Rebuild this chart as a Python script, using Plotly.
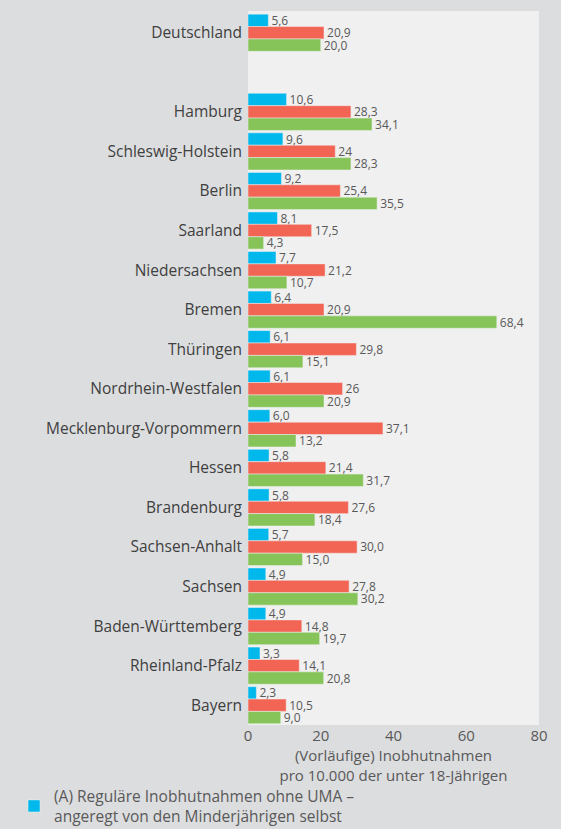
import plotly.graph_objects as go

categories = ["Deutschland", "Hamburg", "Schleswig-Holstein", "Berlin", "Saarland",
              "Niedersachsen", "Bremen", "Thüringen", "Nordrhein-Westfalen",
              "Mecklenburg-Vorpommern", "Hessen", "Brandenburg", "Sachsen-Anhalt",
              "Sachsen", "Baden-Württemberg", "Rheinland-Pfalz", "Bayern"]
positions = [0, 2, 3, 4, 5, 6, 7, 8, 9, 10, 11, 12, 13, 14, 15, 16, 17]

values_a = [5.6, 10.6, 9.6, 9.2, 8.1, 7.7, 6.4, 6.1, 6.1, 6.0, 5.8, 5.8, 5.7, 4.9, 4.9, 3.3, 2.3]
labels_a = ["5,6", "10,6", "9,6", "9,2", "8,1", "7,7", "6,4", "6,1", "6,1", "6,0", "5,8", "5,8", "5,7", "4,9", "4,9", "3,3", "2,3"]
values_b = [20.9, 28.3, 24, 25.4, 17.5, 21.2, 20.9, 29.8, 26, 37.1, 21.4, 27.6, 30.0, 27.8, 14.8, 14.1, 10.5]
labels_b = ["20,9", "28,3", "24", "25,4", "17,5", "21,2", "20,9", "29,8", "26", "37,1", "21,4", "27,6", "30,0", "27,8", "14,8", "14,1", "10,5"]
values_c = [20.0, 34.1, 28.3, 35.5, 4.3, 10.7, 68.4, 15.1, 20.9, 13.2, 31.7, 18.4, 15.0, 30.2, 19.7, 20.8, 9.0]
labels_c = ["20,0", "34,1", "28,3", "35,5", "4,3", "10,7", "68,4", "15,1", "20,9", "13,2", "31,7", "18,4", "15,0", "30,2", "19,7", "20,8", "9,0"]

legend_a = "(A) Reguläre Inobhutnahmen ohne UMA –<br>angeregt von den Minderjährigen selbst"
legend_b = "(B)"
legend_c = "(C)"
x_ticks = [0, 20, 40, 60, 80]
x_title = "(Vorläufige) Inobhutnahmen<br>pro 10.000 der unter 18-Jährigen"

FONT = "Open Sans"
TXT = "#595959"

fig = go.Figure()
for vals, labs, name, color, show in [
    (values_a, labels_a, legend_a, "#00b8ec", True),
    (values_b, labels_b, legend_b, "#f26555", False),
    (values_c, labels_c, legend_c, "#86c45a", False),
]:
    fig.add_trace(go.Bar(
        y=positions, x=vals, orientation="h", name=name,
        marker=dict(color=color, line=dict(color="#f0f0f0", width=0.5)),
        text=labs, textposition="outside", cliponaxis=False,
        constraintext="none",
        textfont=dict(family=FONT, size=12, color=TXT),
        showlegend=show, hoverinfo="skip",
    ))

fig.update_layout(
    width=561, height=829,
    barmode="group", bargap=0.06, bargroupgap=0,
    paper_bgcolor="#dcdddf", plot_bgcolor="#f0f0f0",
    margin=dict(l=248, r=22, t=11, b=104, autoexpand=False),
    font=dict(family=FONT, color=TXT),
    xaxis=dict(range=[0, 80], tickvals=x_ticks, showgrid=False, zeroline=False,
               tickfont=dict(size=15, color=TXT), ticks="", automargin=False,
               title=dict(text=x_title, font=dict(size=15, color=TXT), standoff=4)),
    yaxis=dict(range=[17.5, -0.55], tickvals=positions, ticktext=categories,
               showgrid=False, zeroline=False, ticks="", automargin=False,
               ticklabelstandoff=5,
               tickfont=dict(size=15.5, color="#404040")),
    legend=dict(xref="container", yref="container", x=0.025, y=0.06,
                xanchor="left", yanchor="top",
                font=dict(size=15.5, color=TXT), bgcolor="rgba(0,0,0,0)",
                itemwidth=30),
)

fig.write_html("out.html", config={"displayModeBar": False},
               post_script="document.body.style.margin='0';document.body.style.padding='0';")
